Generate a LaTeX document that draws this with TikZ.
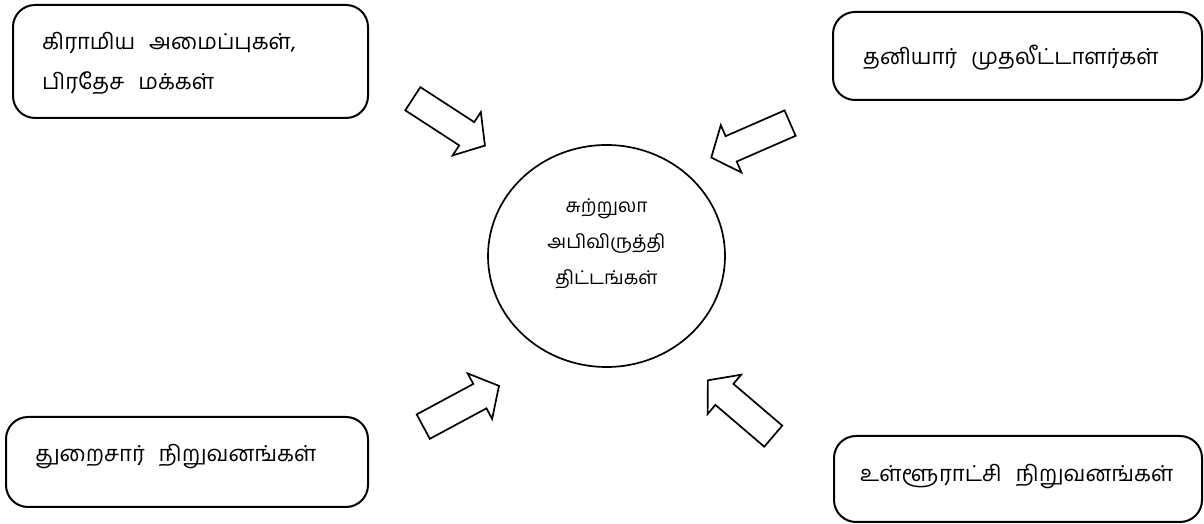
\documentclass[tikz,border=0pt]{standalone}
\usepackage{fontspec}
\newfontfamily\tamil[Script=Tamil]{Hind Madurai}
\usetikzlibrary{shapes.arrows,shapes.geometric}
\newcommand\wgap{\hspace{14pt}}

\begin{document}
\begin{tikzpicture}[x=1pt,y=1pt]
\tikzset{ box/.style={draw, line width=2pt, rounded corners=22pt, inner sep=0pt},
  txt/.style={font=\tamil\fontsize{22}{40}\selectfont, inner sep=0pt, anchor=base west, align=left},
  blk/.style={draw, line width=1.7pt, single arrow, single arrow head extend=12pt,
    single arrow tip angle=100, inner sep=0pt, inner ysep=13pt, minimum height=86pt} }
\useasboundingbox (0,0) rectangle (1204,524);
%\draw [lightgray, dashed](0,0) grid[step=50] (1204,524);

\node [box, minimum width=355pt, minimum height=113pt] (R) at (190.5,462.5) {};
\node [box, minimum width=369pt, minimum height=88pt]  (P) at (1017.5,468) {};
\node [box, minimum width=362pt, minimum height=90pt]  (D) at (187,62) {};
\node [box, minimum width=368pt, minimum height=86pt]  (L) at (1018,45) {};

\node [draw, ellipse, line width=1.7pt, minimum width=237pt, minimum height=222pt, inner sep=0pt] (C) at (606.5,268) {};

\node [txt] (RT) at (42,434) {கிராமிய\wgap அமைப்புகள்,\\பிரதேச\wgap மக்கள்};
\node [txt] (PT) at (863,459) {தனியார்\wgap முதலீட்டாளர்கள்};
\node [txt] (DT) at (35,62)   {துறைசார்\wgap நிறுவனங்கள்};
\node [txt] (LT) at (860,42)  {உள்ளூராட்சி\wgap நிறுவனங்கள்};

\node [font=\tamil\fontsize{19}{36}\selectfont, align=center, inner sep=0pt] (CT) at ([yshift=12pt]C.center) {சுற்றுலா\\அபிவிருத்தி\\திட்டங்கள்};

\node [blk, rotate=-33]    (RA) at (444,405) {};
\node [blk, rotate=-156.4] (PA) at (756,386) {};
\node [blk, rotate=28.3]   (DA) at (456,115) {};
\node [blk, rotate=139.5]  (LA) at (745,112) {};

\end{tikzpicture}
\end{document}
